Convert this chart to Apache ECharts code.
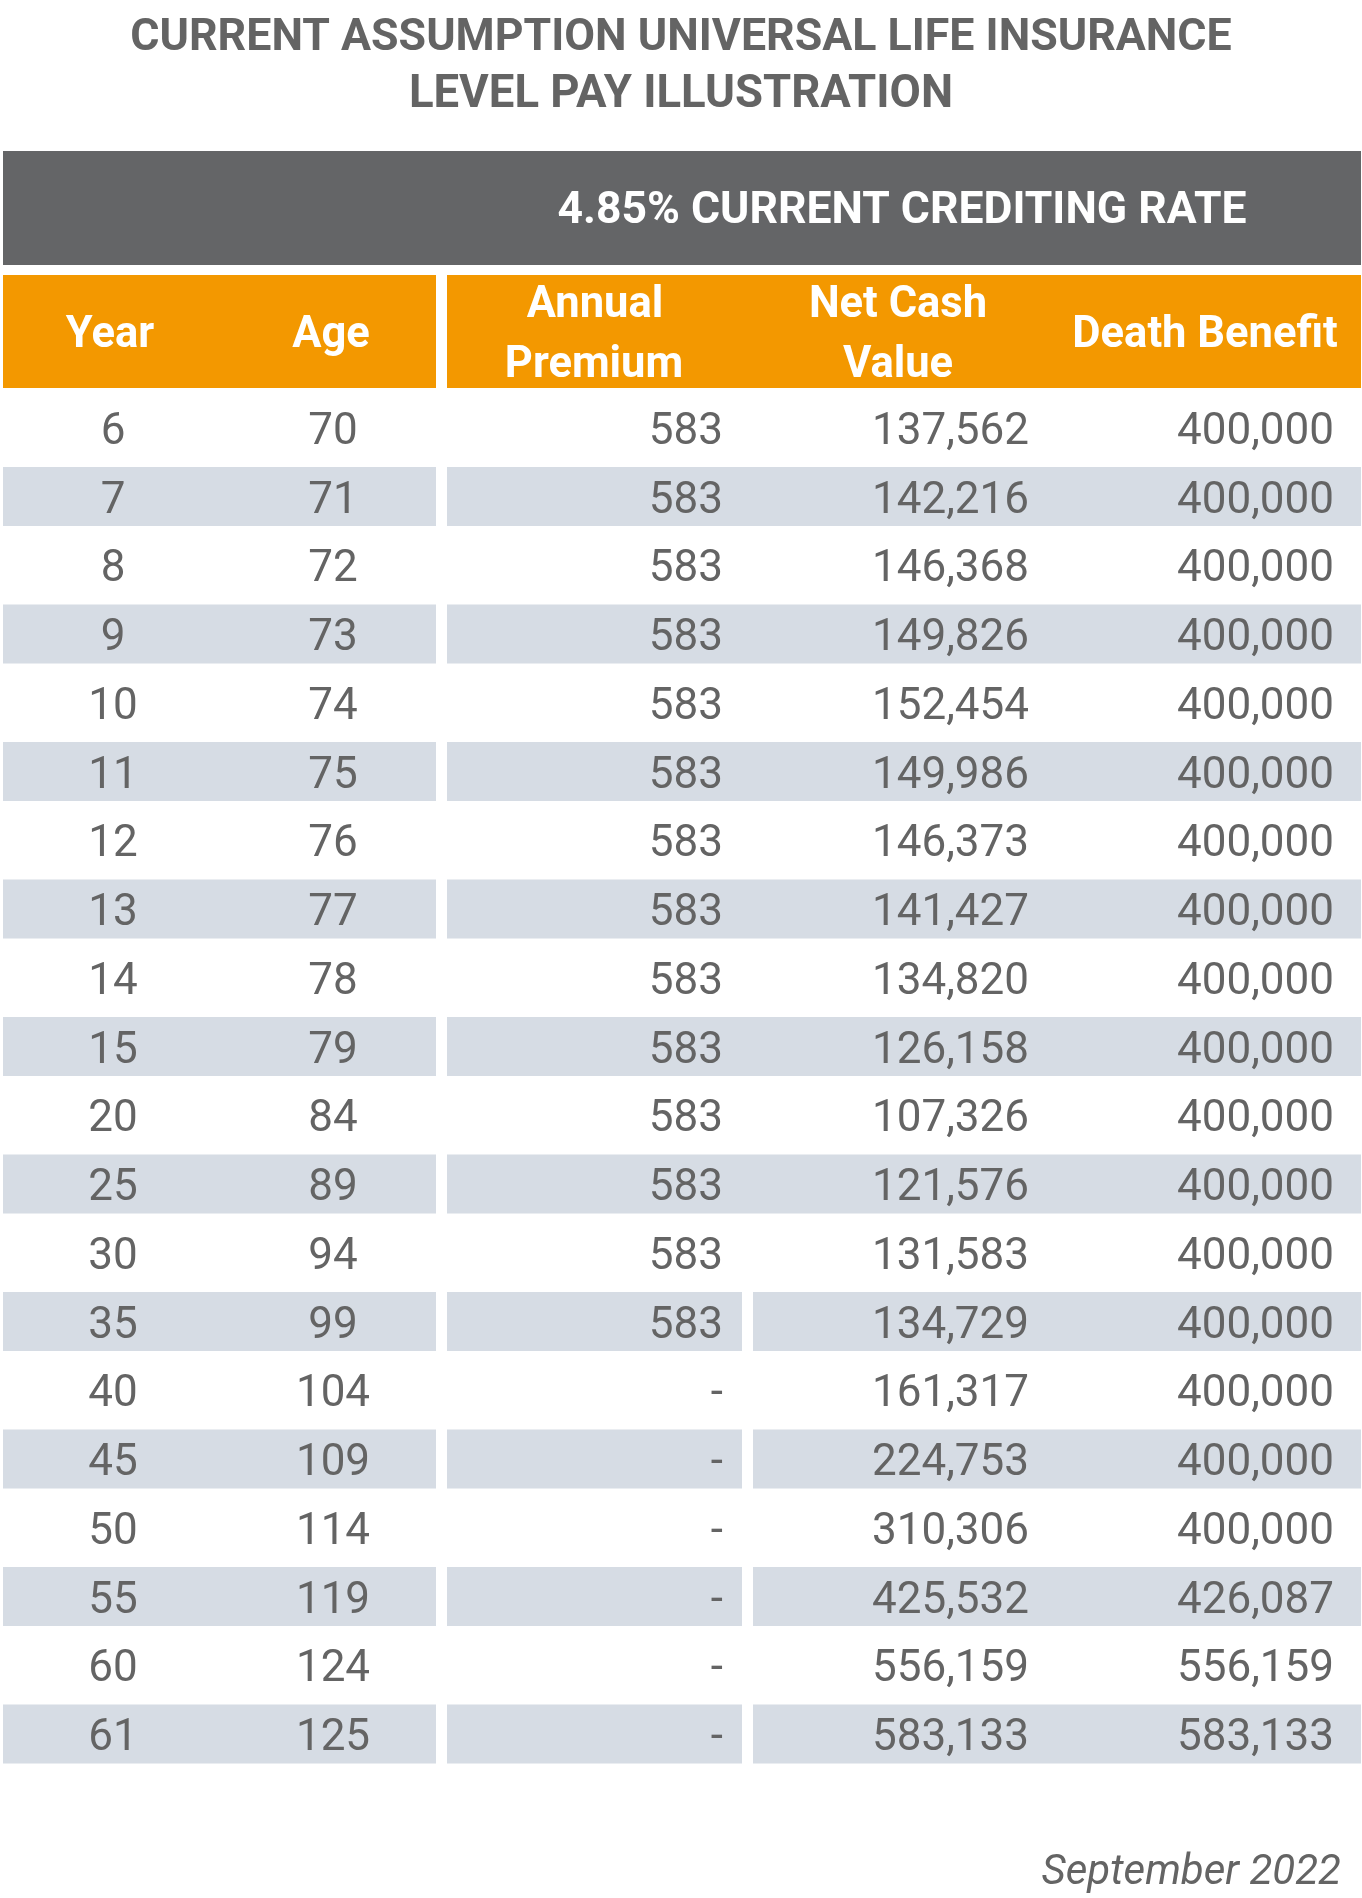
<!DOCTYPE html>
<html>
<head>
<meta charset="utf-8">
<script src="https://cdn.jsdelivr.net/npm/echarts@6/dist/echarts.min.js"></script>
<style>
  html, body { margin: 0; padding: 0; background: #fff; }
  #main { width: 1362px; height: 1898px; }
</style>
</head>
<body>
<div id="main"></div>
<script>
    // table data
    var years = [6, 7, 8, 9, 10, 11, 12, 13, 14, 15, 20, 25, 30, 35, 40, 45, 50, 55, 60, 61];
    var ages = [70, 71, 72, 73, 74, 75, 76, 77, 78, 79, 84, 89, 94, 99, 104, 109, 114, 119, 124, 125];
    var premiums = [583, 583, 583, 583, 583, 583, 583, 583, 583, 583, 583, 583, 583, 583, null, null, null, null, null, null];
    var netCash = [137562, 142216, 146368, 149826, 152454, 149986, 146373, 141427, 134820, 126158,
        107326, 121576, 131583, 134729, 161317, 224753, 310306, 425532, 556159, 583133];
    var deathBenefit = [400000, 400000, 400000, 400000, 400000, 400000, 400000, 400000, 400000, 400000,
        400000, 400000, 400000, 400000, 400000, 400000, 400000, 426087, 556159, 583133];

    var txtGray = '#646464';
    var orange = '#F39800';
    var bandColor = '#D6DCE4';
    var splitFromRow = 13; // premium / cash value shading splits from here on

    function fmt(v) {
        if (v == null) return '-';
        return String(v).replace(/\B(?=(\d{3})+(?!\d))/g, ',');
    }

    var rows = years.map(function (y, i) {
        return [0, i, y, ages[i], premiums[i], netCash[i], deathBenefit[i]];
    });
    var shaded = rows.filter(function (r) { return r[1] % 2 === 1; });

    var myChart = echarts.init(document.getElementById('main'));

    function hdr(text, x, y) {
        return {
            type: 'text', x: x, y: y,
            style: { text: text, fill: '#fff', font: 'bold 43.5px Roboto', align: 'center', verticalAlign: 'middle' }
        };
    }

    var option = {
        animation: false,
        grid: { left: 0, width: 1362, top: 393.4, height: 1375 },
        xAxis: { type: 'value', min: 0, max: 1362, show: false },
        yAxis: {
            type: 'category', inverse: true, show: false,
            data: years.map(String)
        },
        graphic: [
            { type: 'text', x: 681, y: 39, style: { text: 'CURRENT ASSUMPTION UNIVERSAL LIFE INSURANCE', fill: txtGray, font: 'bold 44.7px Roboto', align: 'center', verticalAlign: 'middle' } },
            { type: 'text', x: 681, y: 96, style: { text: 'LEVEL PAY ILLUSTRATION', fill: txtGray, font: 'bold 45.5px Roboto', align: 'center', verticalAlign: 'middle' } },
            { type: 'rect', shape: { x: 3, y: 151, width: 1358, height: 114 }, style: { fill: '#646567' } },
            { type: 'text', x: 902, y: 212, style: { text: '4.85% CURRENT CREDITING RATE', fill: '#fff', font: 'bold 44.5px Roboto', align: 'center', verticalAlign: 'middle' } },
            { type: 'rect', shape: { x: 3, y: 275, width: 433, height: 113 }, style: { fill: orange } },
            { type: 'rect', shape: { x: 447, y: 275, width: 914, height: 113 }, style: { fill: orange } },
            hdr('Year', 110, 336),
            hdr('Age', 331, 336),
            hdr('Annual', 595, 306),
            hdr('Premium', 594, 366),
            hdr('Net Cash', 898, 306),
            hdr('Value', 898, 366),
            hdr('Death Benefit', 1205, 336),
            { type: 'text', x: 1341, y: 1873, style: { text: 'September 2022', fill: txtGray, font: 'italic 42px Roboto', align: 'right', verticalAlign: 'middle' } }
        ],
        series: [{
            type: 'custom',
            silent: true,
            data: shaded,
            renderItem: function (params, api) {
                var idx = api.value(1);
                var c = api.coord([0, idx]);
                var h = api.size([0, 1])[1] * 59 / 68.75;
                var segs = idx >= splitFromRow ? [[3, 436], [447, 742], [753, 1361]] : [[3, 436], [447, 1361]];
                return {
                    type: 'group',
                    children: segs.map(function (s) {
                        var x0 = api.coord([s[0], idx])[0];
                        var x1 = api.coord([s[1], idx])[0];
                        return { type: 'rect', shape: { x: x0, y: c[1] - h / 2, width: x1 - x0, height: h }, style: { fill: bandColor } };
                    })
                };
            }
        }, {
            type: 'custom',
            silent: true,
            data: rows,
            renderItem: function (params, api) {
                var r = rows[params.dataIndex];
                var y = api.coord([0, r[1]])[1] + 5;
                var cols = [
                    [113, 'center', r[2]],
                    [333, 'center', r[3]],
                    [723, 'right', fmt(r[4])],
                    [1029, 'right', fmt(r[5])],
                    [1334, 'right', fmt(r[6])]
                ];
                return {
                    type: 'group',
                    children: cols.map(function (col) {
                        return {
                            type: 'text',
                            x: api.coord([col[0], r[1]])[0], y: y,
                            style: { text: String(col[2]), fill: txtGray, font: '44px Roboto', align: col[1], verticalAlign: 'middle' }
                        };
                    })
                };
            }
        }]
    };
    myChart.setOption(option);
</script>
</body>
</html>
